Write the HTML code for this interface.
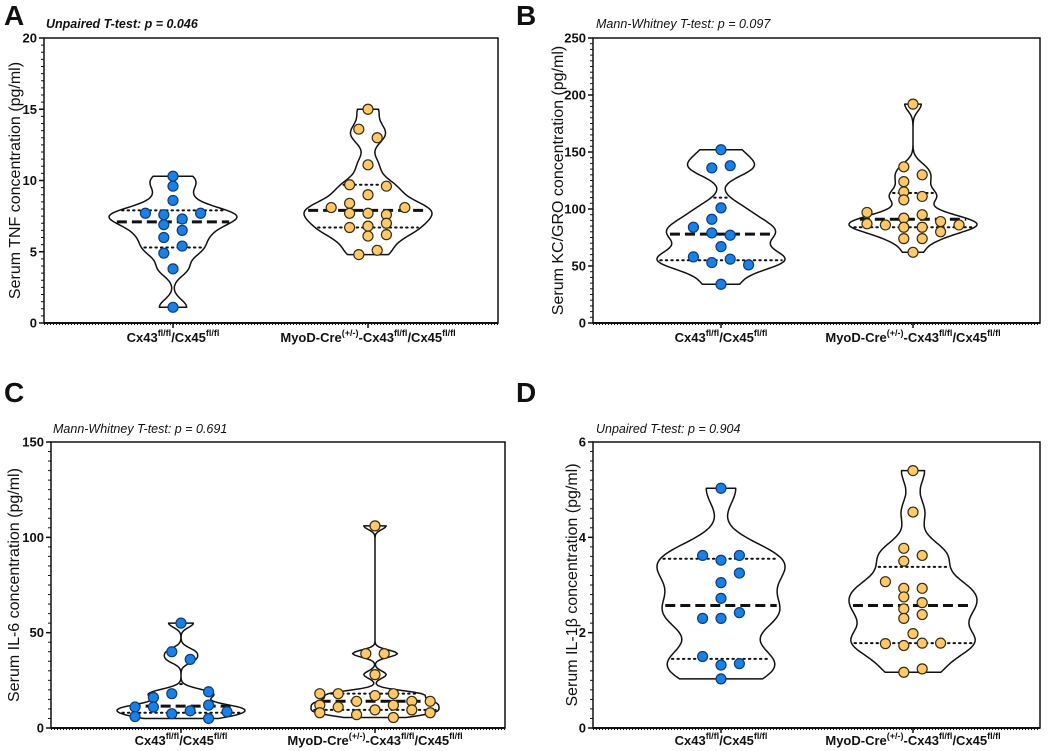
<!DOCTYPE html>
<html><head><meta charset="utf-8"><style>
html,body{margin:0;padding:0;background:#fff;}
svg{display:block;font-family:"Liberation Sans",Arial,sans-serif;}
</style></head><body>
<svg id="chart" width="1052" height="751" viewBox="0 0 1052 751" xmlns="http://www.w3.org/2000/svg"></svg>
<script>
// ---- Data ----
const categories = ["Cx43", "MyoD"];
// Panel A (TNF)
const aVals1 = [10.3,9.6,8.6,7.7,7.6,7.7,7.3,6.9,6.5,6.0,5.4,4.9,3.8,1.1];
const aCols1 = [0,0,0,-3,-1,3,1,-1,1,-1,1,-1,0,0];
const aVals2 = [15.0,13.6,13.0,11.1,9.7,9.6,9.0,8.4,8.1,8.1,7.7,7.7,7.6,7.0,6.8,6.7,6.2,6.1,5.1,4.8];
const aCols2 = [0,-1,1,0,-2,2,0,-2,-4,4,-2,0,2,2,0,-2,2,0,1,-1];
const aStats1 = [5.3,7.1,7.9];
const aStats2 = [6.7,7.9,9.7];
const aTicks = [0,5,10,15,20];
// Panel B (KC/GRO)
const bVals1 = [152,136,138,101,91,84,79,77,67,58,53,56,51,34];
const bCols1 = [0,-1,1,0,-1,-3,-1,1,0,-3,-1,1,3,0];
const bVals2 = [192,137,130,124,115,111,108,97,95,92,87,86,89,84,84,86,80,74,74,62];
const bCols2 = [0,-1,1,-1,-1,1,-1,-5,1,-1,-5,-3,3,-1,1,5,3,-1,1,0];
const bStats1 = [55,78,110];
const bStats2 = [84,91,114];
const bTicks = [0,50,100,150,200,250];
// Panel C (IL-6)
const cVals1 = [55,40,36,19,18,16,11,11,12,7.5,9,8.5,6,5];
const cCols1 = [0,-1,1,3,-1,-3,-5,-3,3,-1,1,5,-5,3];
const cVals2 = [106,39,39,28,18,18,17,18,12,14,12,14,14,11,8,7,9.5,9.5,8,5.5];
const cCols2 = [0,-1,1,0,-6,-4,0,2,-6,-2,2,4,6,-4,-6,-2,0,4,6,2];
const cStats1 = [8,11.5,23];
const cStats2 = [9.5,14,18];
const cTicks = [0,50,100,150];
// Panel D (IL-1b)
const dVals1 = [5.03,3.62,3.52,3.62,3.25,3.05,2.72,2.42,2.3,2.3,1.5,1.32,1.35,1.03];
const dCols1 = [0,-2,0,2,2,0,0,2,-2,0,-2,0,2,0];
const dVals2 = [5.4,4.53,3.77,3.62,3.5,3.07,2.93,2.93,2.75,2.63,2.5,2.38,2.3,1.98,1.77,1.73,1.78,1.78,1.17,1.24];
const dCols2 = [0,0,-1,1,-1,-3,-1,1,-1,1,-1,1,-1,0,-3,-1,1,3,-1,1];
const dStats1 = [1.45,2.57,3.55];
const dStats2 = [1.78,2.57,3.38];
const dTicks = [0,2,4,6];

const NS="http://www.w3.org/2000/svg";
const svg=document.getElementById('chart');
function mk(tag,attrs,parent){const e=document.createElementNS(NS,tag);for(const k in attrs)e.setAttribute(k,attrs[k]);(parent||svg).appendChild(e);return e;}

function kde(vals,bwF){
  const n=vals.length,mean=vals.reduce((a,b)=>a+b)/n;
  const sd=Math.sqrt(vals.reduce((a,b)=>a+(b-mean)*(b-mean),0)/(n-1));
  const s=[...vals].sort((a,b)=>a-b);
  const iqr=s[Math.floor(0.75*(n-1))]-s[Math.floor(0.25*(n-1))];
  const bw=0.9*Math.min(sd,iqr>0?iqr/1.34:sd)*Math.pow(n,-0.2)*bwF;
  return y=>vals.reduce((a,v)=>a+Math.exp(-0.5*((y-v)/bw)**2),0);
}

function panel(p){
  const g=mk('g',{});
  
  
  const {L,R,T,B,max}=p;
  const ys=v=>B-(v/max)*(B-T);
  // letter
  const lt=mk('text',{x:p.lx,y:p.ly,'font-size':28,'font-weight':'bold',fill:'#111'},g);lt.textContent=p.letter;
  
  const st=mk('text',{x:p.sx,y:p.sy,'font-size':12.5,'font-style':'italic','font-weight':p.bold?'bold':'normal',fill:'#111'},g);st.textContent=p.sub;
  
  // box
  const bx=mk('rect',{x:L,y:T,width:R-L,height:B-T,fill:'none',stroke:'#111','stroke-width':1.5},g);
  
  mk('line',{x1:L,y1:B,x2:R,y2:B,stroke:'#111','stroke-width':2},g);
  mk('line',{x1:L,y1:B+1.5,x2:R,y2:B+1.5,stroke:'#111','stroke-width':1,'stroke-dasharray':'1 2'},g);
  // ticks
  const tk=p.ticks;
  for(let i=0;i<tk.length;i++){
    const y=ys(tk[i]);
    mk('line',{x1:L-5,y1:y,x2:L,y2:y,stroke:'#111','stroke-width':1.5},g);
    const t=mk('text',{x:L-7,y:y+4.5,'font-size':13,'font-weight':'bold','text-anchor':'end',fill:'#111'},g);t.textContent=tk[i];
    
    if(i<tk.length-1){const st2=(tk[i+1]-tk[i])/10;for(let k=1;k<10;k++){const yy=ys(tk[i]+k*st2);mk('line',{x1:L-3,y1:yy,x2:L,y2:yy,stroke:'#111','stroke-width':1},g);}}
  }
  const yt=mk('text',{x:0,y:0,'font-size':16,'text-anchor':'middle',fill:'#111',transform:`translate(${p.ytx},${(T+B)/2}) rotate(-90)`},g);
  yt.textContent=p.ytitle;
  
  const cx=[p.c1,p.c2];
  const grp=[[p.v1,p.k1,p.s1,'#1a80e6','#0c3d7a'],[p.v2,p.k2,p.s2,'#fdc96a','#3a2c10']];
  grp.forEach((gd,gi)=>{
    const [vals,cols,stats,fill,stroke]=gd;const c=cx[gi];
    const f=kde(vals,p.bw);
    const mn=Math.min(...vals),mxv=Math.max(...vals);
    const N=120;let mxd=0;const pts=[];
    for(let i=0;i<=N;i++){const v=mn+(mxv-mn)*i/N;const d=f(v);pts.push([v,d]);if(d>mxd)mxd=d;}
    const W=64;const wf=v=>f(v)/mxd*W;
    let dstr='';
    pts.forEach(([v,d],i)=>{dstr+=(i?'L':'M')+(c-d/mxd*W).toFixed(1)+','+ys(v).toFixed(1);});
    for(let i=N;i>=0;i--){const [v,d]=pts[i];dstr+='L'+(c+d/mxd*W).toFixed(1)+','+ys(v).toFixed(1);}
    const vp=mk('path',{d:dstr+'Z',fill:'#fff',stroke:'#111','stroke-width':1.5,'stroke-linejoin':'round'},g);
    
    stats.forEach((s,si)=>{const w=wf(s);const y=ys(s);
      const ln=mk('line',{x1:c-w+3,y1:y,x2:c+w-3,y2:y,stroke:'#111','stroke-width':si===1?3:2,'stroke-dasharray':si===1?'10 5':'1.5 4','stroke-linecap':si===1?'butt':'round'},g);
      });
    vals.forEach((v,i)=>{const pt=mk('circle',{cx:c+cols[i]*9.2,cy:ys(v),r:5,fill,stroke,'stroke-width':1.2},g);
      });
    const xl=mk('text',{x:c,y:p.xly,'font-size':13,'font-weight':'bold','text-anchor':'middle',fill:'#111'},g);
    
    if(gi===0){xl.innerHTML='Cx43<tspan font-size="9" dy="-6">fl/fl</tspan><tspan dy="6">/Cx45</tspan><tspan font-size="9" dy="-6">fl/fl</tspan>';}
    else{xl.innerHTML='MyoD-Cre<tspan font-size="9" dy="-6">(+/-)</tspan><tspan dy="6">-Cx43</tspan><tspan font-size="9" dy="-6">fl/fl</tspan><tspan dy="6">/Cx45</tspan><tspan font-size="9" dy="-6">fl/fl</tspan>';}
    mk('line',{x1:c,y1:B,x2:c,y2:B+5,stroke:'#111','stroke-width':1.5},g);
  });
}
panel({name:'panel-a-tnf',letter:'A',lx:4,ly:25,sub:'Unpaired T-test: p = 0.046',bold:true,sx:46,sy:28,L:44,R:498,T:38,B:323,max:20,ticks:aTicks,ytx:20,ytitle:'Serum TNF concentration (pg/ml)',c1:173,c2:368,v1:aVals1,k1:aCols1,s1:aStats1,v2:aVals2,k2:aCols2,s2:aStats2,xly:342,bw:0.6});
panel({name:'panel-b-kcgro',letter:'B',lx:516,ly:25,sub:'Mann-Whitney T-test: p = 0.097',bold:false,sx:596,sy:28,L:593,R:1040,T:38,B:323,max:250,ticks:bTicks,ytx:563,ytitle:'Serum KC/GRO concentration (pg/ml)',c1:721,c2:913,v1:bVals1,k1:bCols1,s1:bStats1,v2:bVals2,k2:bCols2,s2:bStats2,xly:342,bw:0.6});
panel({name:'panel-c-il6',letter:'C',lx:4,ly:402,sub:'Mann-Whitney T-test: p = 0.691',bold:false,sx:53,sy:433,L:51,R:505,T:442,B:728,max:150,ticks:cTicks,ytx:19,ytitle:'Serum IL-6 concentration (pg/ml)',c1:181,c2:375,v1:cVals1,k1:cCols1,s1:cStats1,v2:cVals2,k2:cCols2,s2:cStats2,xly:745,bw:0.6});
panel({name:'panel-d-il1b',letter:'D',lx:516,ly:402,sub:'Unpaired T-test: p = 0.904',bold:false,sx:596,sy:433,L:593,R:1040,T:442,B:728,max:6,ticks:dTicks,ytx:577,ytitle:'Serum IL-1β concentration (pg/ml)',c1:721,c2:913,v1:dVals1,k1:dCols1,s1:dStats1,v2:dVals2,k2:dCols2,s2:dStats2,xly:745,bw:0.6});
</script>
</body></html>
